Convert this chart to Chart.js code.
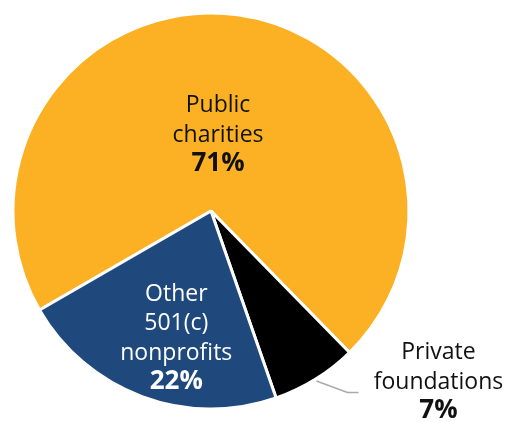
<!DOCTYPE html>
<html><head><meta charset="utf-8">
<script src="https://cdn.jsdelivr.net/npm/chart.js@4.4.1/dist/chart.umd.min.js"></script>
<style>html,body{margin:0;padding:0;background:#fff;}#wrap{width:508px;height:422px;position:relative;}</style>
</head><body><div id="wrap"><canvas id="c" width="508" height="422"></canvas></div>
<script>
const categories = ["Public charities", "Private foundations", "Other 501(c) nonprofits"];
const labelLines = [["Public", "charities"], ["Private", "foundations"], ["Other", "501(c)", "nonprofits"]];
const shares = [71, 7, 22];
const colors = ["#FBB123", "#000000", "#1F497D"];

const labelPlugin = {
  id: 'sliceLabels',
  afterDatasetsDraw(chart) {
    const ctx = chart.ctx;
    const meta = chart.getDatasetMeta(0);
    const cfg = [
      {rf: 0.39, dA: -3.3, dx: 1, dy: -22, color: '#111', outside: false},
      {rf: 0, dA: 0, dx: 0, dy: 0, color: '#111', outside: true},
      {rf: 0.66, dA: -5, dx: 0, dy: -36, color: '#fff', outside: false}
    ];
    meta.data.forEach((arc, i) => {
      const p = arc.getProps(['x','y','startAngle','endAngle','outerRadius'], true);
      const mid = (p.startAngle + p.endAngle) / 2;
      const c = cfg[i];
      let x, y;
      ctx.save();
      if (c.outside) {
        const r0 = p.outerRadius + 2, r1 = p.outerRadius + 29;
        const x0 = p.x + Math.cos(mid) * r0, y0 = p.y + Math.sin(mid) * r0;
        const x1 = p.x + Math.cos(mid - 0.09) * r1, y1 = p.y + Math.sin(mid - 0.09) * r1;
        ctx.strokeStyle = '#aaaaaa'; ctx.lineWidth = 1.5;
        ctx.beginPath(); ctx.moveTo(x0, y0); ctx.lineTo(x1, y1); ctx.lineTo(x1 + 11, y1); ctx.stroke();
        x = x1 + 91; y = y1 - 33;
      } else {
        const a = mid + c.dA * Math.PI / 180;
        x = p.x + Math.cos(a) * p.outerRadius * c.rf + c.dx;
        y = p.y + Math.sin(a) * p.outerRadius * c.rf + c.dy;
      }
      ctx.fillStyle = c.color;
      ctx.textAlign = 'center';
      ctx.textBaseline = 'alphabetic';
      ctx.font = '400 23px "Open Sans"';
      const lines = labelLines[i];
      lines.forEach((t, k) => ctx.fillText(t, x, y + k * 29.5));
      ctx.font = '700 26px "Open Sans"';
      ctx.fillText(shares[i] + '%', x, y + lines.length * 29.5);
      ctx.restore();
    });
  }
};

new Chart(document.getElementById('c'), {
  type: 'pie',
  data: {
    labels: categories,
    datasets: [{
      data: shares,
      backgroundColor: colors,
      borderColor: '#ffffff',
      borderWidth: 3
    }]
  },
  options: {
    responsive: false,
    animation: false,
    rotation: -120,
    radius: 198,
    layout: {padding: {left: 13, top: 13, right: 99, bottom: 13}},
    plugins: {legend: {display: false}, tooltip: {enabled: false}}
  },
  plugins: [labelPlugin]
});
</script></body></html>
